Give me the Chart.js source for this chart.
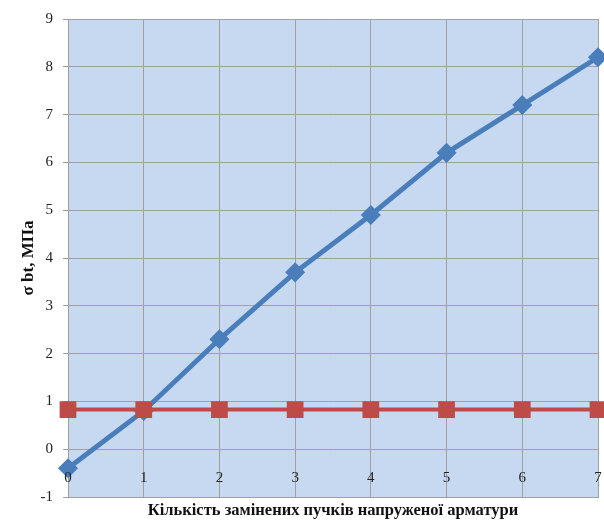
<!DOCTYPE html>
<html>
<head>
<meta charset="utf-8">
<script src="https://cdn.jsdelivr.net/npm/chart.js@4/dist/chart.umd.min.js"></script>
<style>
  html, body { margin: 0; padding: 0; background: #fff; }
  #wrap { width: 604px; height: 523px; }
</style>
</head>
<body>
<div id="wrap"><canvas id="stressChart" width="604" height="523"></canvas></div>
<script>
// ===============================
//  DATA
// ===============================
const bundles = [0, 1, 2, 3, 4, 5, 6, 7];
const sigmaBt = [-0.4, 0.8, 2.3, 3.7, 4.9, 6.2, 7.2, 8.2];
const limitValues = [0.83, 0.83, 0.83, 0.83, 0.83, 0.83, 0.83, 0.83];
const yTicks = [-1, 0, 1, 2, 3, 4, 5, 6, 7, 8, 9];

const serif = "'Liberation Serif', 'Times New Roman', serif";

// plot area fill
const plotBackground = {
    id: 'plotBackground',
    beforeDraw(chart) {
        const { ctx, chartArea: a } = chart;
        ctx.save();
        ctx.fillStyle = '#c6d9f1';
        ctx.fillRect(a.left, a.top, a.right - a.left, a.bottom - a.top);
        ctx.restore();
    }
};

// x labels sit inside the plot, just above its bottom edge (like Excel axis crossing at 0)
const innerXLabels = {
    id: 'innerXLabels',
    afterDatasetsDraw(chart) {
        const { ctx, chartArea: a, scales } = chart;
        ctx.save();
        ctx.font = '15px ' + serif;
        ctx.fillStyle = '#222';
        ctx.textAlign = 'center';
        ctx.textBaseline = 'middle';
        bundles.forEach(v => {
            ctx.fillText(String(v), scales.x.getPixelForValue(v), a.bottom - 19);
        });
        ctx.restore();
    }
};

const toPoints = (ys) => bundles.map((x, i) => ({ x: x, y: ys[i] }));

const ctx = document.getElementById("stressChart");
new Chart(ctx, {
    type: 'line',
    data: {
        datasets: [
            {
                data: toPoints(limitValues),
                borderColor: '#be4b48',
                backgroundColor: '#be4b48',
                borderWidth: 4,
                pointStyle: 'rect',
                pointRadius: 9,
                pointHoverRadius: 9,
                clip: false
            },
            {
                data: toPoints(sigmaBt),
                borderColor: '#4a7ebb',
                backgroundColor: '#4a7ebb',
                borderWidth: 5,
                pointStyle: 'rectRot',
                pointRadius: 6.5,
                pointHoverRadius: 6.5,
                clip: false
            }
        ]
    },
    options: {
        responsive: false,
        animation: false,
        layout: { autoPadding: false, padding: { top: 18, right: 6, left: 0, bottom: 0 } },
        plugins: {
            legend: { display: false },
            tooltip: { enabled: false }
        },
        scales: {
            x: {
                type: 'linear',
                min: 0,
                max: 7,
                afterFit: (s) => { s.height = 26; },
                afterBuildTicks: (s) => { s.ticks = bundles.map(v => ({ value: v })); },
                grid: { color: '#a0a0a0', lineWidth: 1, drawTicks: false },
                border: { color: '#a0a0a0' },
                ticks: { display: false },
                title: {
                    display: true,
                    text: 'Кількість замінених пучків напруженої арматури',
                    color: '#111',
                    font: { family: serif, size: 16.5, weight: 'bold' },
                    padding: { top: 0, bottom: 2 }
                }
            },
            y: {
                min: -1,
                max: 9,
                afterFit: (s) => { s.width = 68; },
                afterBuildTicks: (s) => { s.ticks = yTicks.map(v => ({ value: v })); },
                grid: { color: '#a0a0a0', lineWidth: 1, tickLength: 5 },
                border: { color: '#a0a0a0' },
                ticks: {
                    padding: 10,
                    color: '#222',
                    font: { family: serif, size: 15 }
                },
                title: {
                    display: true,
                    text: 'σ bt, МПа',
                    color: '#111',
                    font: { family: serif, size: 17, weight: 'bold' },
                    padding: { top: 18, bottom: 0 }
                }
            }
        }
    },
    plugins: [plotBackground, innerXLabels]
});
</script>
</body>
</html>
